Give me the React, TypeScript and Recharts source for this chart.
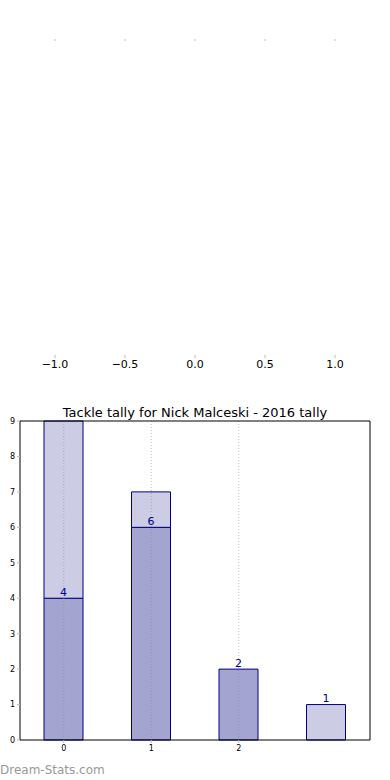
import { Bar, BarChart, LabelList, LineChart, ReferenceLine, XAxis, YAxis } from 'recharts'

const emptyTicks = [-1, -0.5, 0, 0.5, 1]

const categories = ['0', '1', '2', '']
const effective = [4, 6, 2, 0]
const ineffective = [5, 1, 0, 1]
const yTicks = [0, 1, 2, 3, 4, 5, 6, 7, 8, 9]
const gridCategories = ['0', '1', '2']

const data = categories.map((name, i) => ({
  name,
  effective: effective[i],
  ineffective: ineffective[i],
  lightLabel: effective[i] === 0 ? ineffective[i] : '',
}))

const font = 'DejaVu Sans, sans-serif'
const minus = (v: number) => v.toFixed(1).replace('-', '\u2212')

function EmptyAxes() {
  return (
    <LineChart
      width={390}
      height={380}
      data={[{ x: 0 }]}
      margin={{ top: 39, right: 20, bottom: 0, left: 20 }}
    >
      <XAxis
        xAxisId='top'
        orientation='top'
        dataKey='x'
        type='number'
        domain={[-1.25, 1.25]}
        ticks={emptyTicks}
        height={1}
        axisLine={false}
        mirror
        tickSize={2}
        tickLine={{ stroke: '#bbbbbb' }}
        tickFormatter={() => ''}
      />
      <XAxis
        dataKey='x'
        type='number'
        domain={[-1.25, 1.25]}
        ticks={emptyTicks}
        height={25}
        axisLine={false}
        tickSize={3}
        tickLine={{ stroke: '#bbbbbb' }}
        tick={{ fontSize: 11, fill: '#000', fontFamily: font }}
        tickFormatter={minus}
      />
    </LineChart>
  )
}

function TackleChart() {
  return (
    <BarChart
      width={390}
      height={390}
      data={data}
      margin={{ top: 20, right: 20, bottom: 34, left: 0 }}
    >
      <XAxis
        xAxisId='top'
        orientation='top'
        dataKey='name'
        height={1}
        tick={false}
        tickLine={false}
        axisLine={{ stroke: '#000' }}
      />
      <XAxis
        dataKey='name'
        height={16}
        tickSize={3}
        ticks={gridCategories}
        axisLine={{ stroke: '#000' }}
        tickLine={{ stroke: '#bbbbbb' }}
        tick={{ fontSize: 8, fill: '#000', fontFamily: font }}
      />
      <YAxis
        domain={[0, 9]}
        ticks={yTicks}
        width={20}
        tickSize={3}
        axisLine={{ stroke: '#000' }}
        tickLine={{ stroke: '#bbbbbb' }}
        tick={{ fontSize: 8, fill: '#000', fontFamily: font }}
      />
      <YAxis
        yAxisId='right'
        orientation='right'
        domain={[0, 9]}
        ticks={yTicks}
        width={1}
        mirror
        tickSize={3}
        axisLine={{ stroke: '#000' }}
        tickLine={{ stroke: '#bbbbbb' }}
        tickFormatter={() => ''}
      />
      <Bar
        dataKey='effective'
        stackId='t'
        barSize={39}
        fill='#a3a5d0'
        stroke='#000080'
        strokeWidth={1}
        isAnimationActive={false}
      >
        <LabelList
          dataKey='effective'
          position='top'
          offset={2}
          fill='#00008b'
          fontSize={11}
          fontFamily={font}
          formatter={(v: any) => (v > 0 ? v : '')}
        />
      </Bar>
      <Bar
        dataKey='ineffective'
        stackId='t'
        barSize={39}
        fill='#cccce4'
        stroke='#000080'
        strokeWidth={1}
        isAnimationActive={false}
      >
        <LabelList
          dataKey='lightLabel'
          position='top'
          offset={3}
          fill='#00008b'
          fontSize={11}
          fontFamily={font}
        />
      </Bar>
      {gridCategories.map((c) => (
        <ReferenceLine
          key={c}
          x={c}
          stroke='#888'
          strokeOpacity={0.55}
          strokeDasharray='1 2'
        />
      ))}
    </BarChart>
  )
}

export default function App() {
  return (
    <div
      style={{
        position: 'absolute',
        top: 0,
        left: 0,
        width: 390,
        height: 780,
        background: '#fff',
        fontFamily: font,
      }}
    >
      <EmptyAxes />
      <div
        style={{
          position: 'absolute',
          top: 405,
          left: 0,
          width: 390,
          textAlign: 'center',
          fontSize: 13,
          color: '#000',
        }}
      >
        Tackle tally for Nick Malceski - 2016 tally
      </div>
      <div style={{ position: 'absolute', top: 400, left: 0 }}>
        <TackleChart />
      </div>
      <div
        style={{
          position: 'absolute',
          top: 763,
          left: 0,
          fontSize: 12,
          color: '#999',
        }}
      >
        Dream-Stats.com
      </div>
    </div>
  )
}
